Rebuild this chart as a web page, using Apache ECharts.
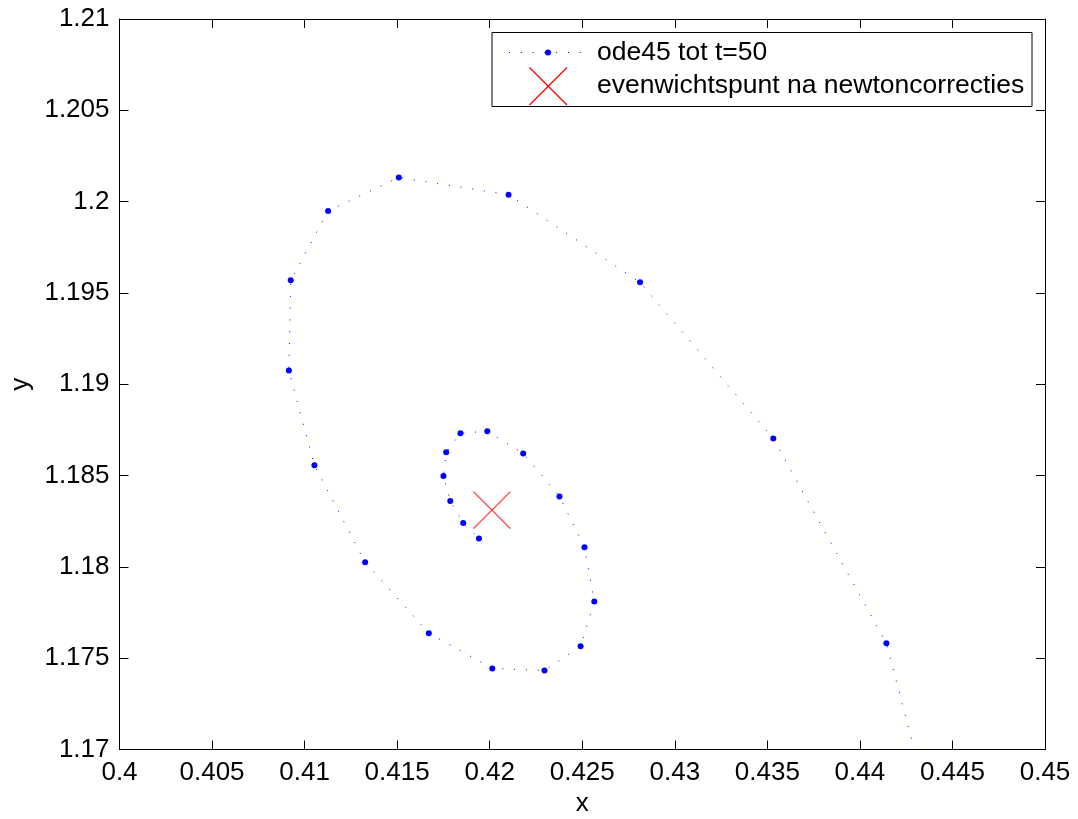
<!DOCTYPE html>
<html>
<head>
<meta charset="utf-8">
<script src="https://cdn.jsdelivr.net/npm/echarts@6/dist/echarts.min.js"></script>
<style>
  html, body { margin: 0; padding: 0; background: #fff; }
  #chart { width: 1078px; height: 819px; }
</style>
</head>
<body>
<div id="chart"></div>
<script>
// ode45 trajectory (x, y); first point lies outside the view
var trajX = [0.44408, 0.44143, 0.43532, 0.42812, 0.42102, 0.41509, 0.41127, 0.40925, 0.40915,
             0.41053, 0.41327, 0.41671, 0.42014, 0.42296, 0.42491, 0.42565, 0.42512, 0.42377,
             0.42181, 0.41987, 0.41842, 0.41765, 0.41750, 0.41787, 0.41857, 0.41942];
var trajY = [1.16560, 1.17582, 1.18703, 1.19558, 1.20038, 1.20132, 1.19949, 1.19569, 1.19075,
             1.18556, 1.18025, 1.17637, 1.17444, 1.17433, 1.17566, 1.17810, 1.18107, 1.18386,
             1.18621, 1.18743, 1.18732, 1.18627, 1.18497, 1.18361, 1.18240, 1.18155];
// equilibrium after Newton corrections
var eqX = [0.42012];
var eqY = [1.18311];
// axis ticks
var xTicks = [0.4, 0.405, 0.41, 0.415, 0.42, 0.425, 0.43, 0.435, 0.44, 0.445, 0.45];
var yTicks = [1.17, 1.175, 1.18, 1.185, 1.19, 1.195, 1.2, 1.205, 1.21];
var legendNames = ['ode45 tot t=50', 'evenwichtspunt na newtoncorrecties'];
var axisTitles = ['x', 'y'];

var FONT = "'Liberation Sans', Arial, Helvetica, sans-serif";
var chart = echarts.init(document.getElementById('chart'), null, { renderer: 'canvas' });

function fmt(v) { return String(parseFloat(v.toFixed(3))); }

var xMin = xTicks[0], xMax = xTicks[xTicks.length - 1], xInt = xTicks[1] - xTicks[0];
var yMin = yTicks[0], yMax = yTicks[yTicks.length - 1], yInt = yTicks[1] - yTicks[0];

function baseAxis(min, max, interval) {
  return {
    type: 'value', min: min, max: max, interval: interval,
    axisLine: { show: true, onZero: false, lineStyle: { color: '#000', width: 1 } },
    axisTick: { show: true, inside: true, length: 9, lineStyle: { color: '#000', width: 1 } },
    splitLine: { show: false },
    axisLabel: { show: false }
  };
}

var xBottom = baseAxis(xMin, xMax, xInt);
xBottom.position = 'bottom';
xBottom.axisLabel = { show: true, formatter: fmt, color: '#000', fontSize: 26, fontFamily: FONT, margin: 10 };
xBottom.name = axisTitles[0];
xBottom.nameLocation = 'middle';
xBottom.nameGap = 40;
xBottom.nameTextStyle = { color: '#000', fontSize: 26, fontFamily: FONT };

var xTop = baseAxis(xMin, xMax, xInt);
xTop.position = 'top';

var yLeft = baseAxis(yMin, yMax, yInt);
yLeft.position = 'left';
yLeft.axisLabel = { show: true, formatter: fmt, color: '#000', fontSize: 26, fontFamily: FONT, margin: 10 };
yLeft.name = axisTitles[1];
yLeft.nameLocation = 'middle';
yLeft.nameGap = 83;
yLeft.nameTextStyle = { color: '#000', fontSize: 26, fontFamily: FONT };

var yRight = baseAxis(yMin, yMax, yInt);
yRight.position = 'right';

var trajData = trajX.map(function (x, i) { return [x, trajY[i]]; });
var eqData = eqX.map(function (x, i) { return [x, eqY[i]]; });

var crossPath = 'path://M0,0L10,10M10,0L0,10';

chart.setOption({
  animation: false,
  backgroundColor: '#fff',
  grid: { left: 119.5, right: 33, top: 19, bottom: 69.5, containLabel: false, outerBoundsMode: 'none' },
  xAxis: [xBottom, xTop],
  yAxis: [yLeft, yRight],
  series: [
    {
      name: legendNames[0],
      type: 'line',
      xAxisIndex: 0, yAxisIndex: 0,
      data: trajData,
      clip: true,
      symbol: 'circle',
      symbolSize: 6,
      showAllSymbol: true,
      itemStyle: { color: '#0000ff' },
      lineStyle: { color: '#0000ff', width: 1, type: [1, 10.8] },
      z: 3
    },
    {
      name: legendNames[1],
      type: 'scatter',
      xAxisIndex: 0, yAxisIndex: 0,
      data: eqData,
      symbol: crossPath,
      symbolSize: 37,
      itemStyle: { color: 'rgba(0,0,0,0)', borderColor: '#ff0000', borderWidth: 1.2 },
      z: 4
    }
  ],
  graphic: [
    { type: 'rect', z: 100, shape: { x: 492, y: 32.5, width: 540, height: 74 },
      style: { fill: '#fff', stroke: '#000', lineWidth: 1 } },
    { type: 'line', z: 101, shape: { x1: 509, y1: 52.5, x2: 583, y2: 52.5 },
      style: { stroke: '#0000ff', lineWidth: 1, lineDash: [1, 10.8] } },
    { type: 'circle', z: 101, shape: { cx: 548, cy: 52.5, r: 3 },
      style: { fill: '#0000ff' } },
    { type: 'line', z: 101, shape: { x1: 529.5, y1: 67.5, x2: 567, y2: 105 },
      style: { stroke: '#ff0000', lineWidth: 1.2 } },
    { type: 'line', z: 101, shape: { x1: 567, y1: 67.5, x2: 529.5, y2: 105 },
      style: { stroke: '#ff0000', lineWidth: 1.2 } },
    { type: 'text', z: 101, x: 597, y: 53,
      style: { text: legendNames[0], fill: '#000', font: '26.5px ' + FONT, verticalAlign: 'middle', align: 'left' } },
    { type: 'text', z: 101, x: 597, y: 85.5,
      style: { text: legendNames[1], fill: '#000', font: '26.5px ' + FONT, verticalAlign: 'middle', align: 'left' } }
  ]
});
</script>
</body>
</html>
